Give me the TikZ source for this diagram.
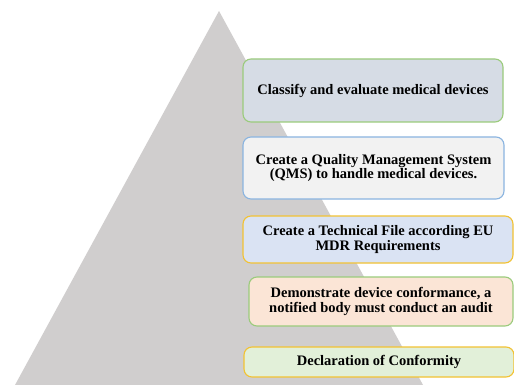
\documentclass[tikz,border=0pt]{standalone}
\usepackage{fontspec}
\setmainfont{Liberation Serif}
\definecolor{tri}{HTML}{D0CECE}
\definecolor{gborder}{HTML}{9BCB7C}
\definecolor{bborder}{HTML}{8AB4E0}
\definecolor{yborder}{HTML}{F2C233}
\definecolor{f1}{HTML}{D6DCE5}
\definecolor{f2}{HTML}{F2F2F2}
\definecolor{f3}{HTML}{DAE3F3}
\definecolor{f4}{HTML}{FBE5D6}
\definecolor{f5}{HTML}{E2F0D9}
\begin{document}
\begin{tikzpicture}[x=1pt,y=-1pt,
  stepbox/.style={draw, line width=1.1pt, rounded corners=8pt, align=center,
    font=\fontsize{14.5}{14.5}\selectfont\bfseries, inner sep=0pt, anchor=center}]
\useasboundingbox[fill=white] (0,0) rectangle (514,385);
\fill[tri] (219,11) -- (423,385) -- (15,385) -- cycle;
\node[stepbox, fill=f1, draw=gborder, minimum width=260pt, minimum height=63pt] (b1) at (373,90.5) {Classify and evaluate medical devices};
\node[stepbox, fill=f2, draw=bborder, minimum width=261pt, minimum height=62pt] (b2) at (373.5,168) {Create a Quality Management System\\(QMS) to handle medical devices.};
\node[stepbox, fill=f3, draw=yborder, minimum width=270pt, minimum height=47pt] (b3) at (378,239.5) {Create a Technical File according EU\\MDR Requirements};
\node[stepbox, fill=f4, draw=gborder, minimum width=264pt, minimum height=49pt] (b4) at (381,301.5) {Demonstrate device conformance, a\\notified body must conduct an audit};
\node[stepbox, fill=f5, draw=yborder, minimum width=270pt, minimum height=30pt] (b5) at (379,362) {Declaration of Conformity};
\end{tikzpicture}
\end{document}
